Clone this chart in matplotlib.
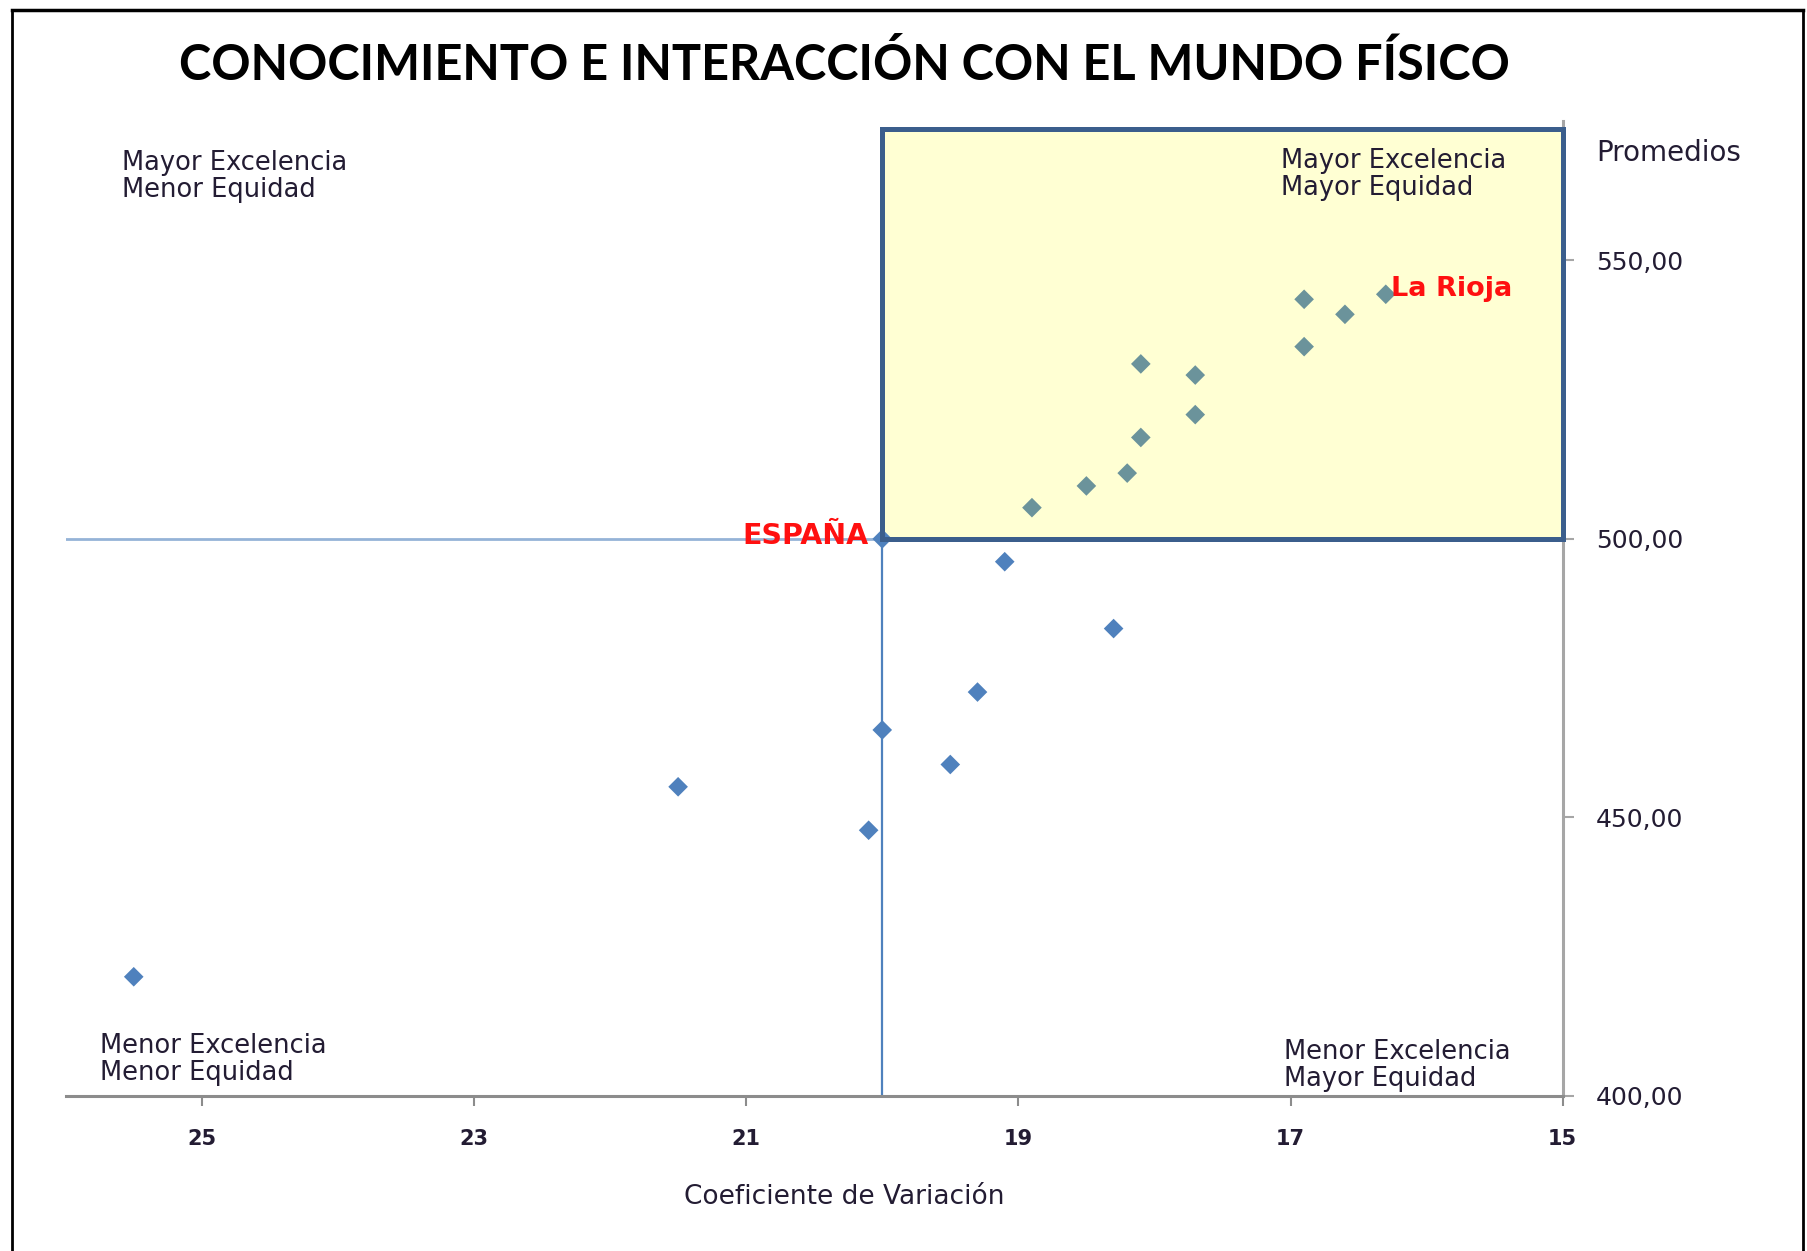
import matplotlib
matplotlib.use("Agg")
import matplotlib.pyplot as plt
from matplotlib.patches import Rectangle
from matplotlib.lines import Line2D

# ── Data ──────────────────────────────────────────────────────────────────────
cv = [25.5, 21.5, 20.1, 20.0, 19.5, 19.3, 18.3, 19.1,
      18.9, 18.5, 18.2, 18.1, 18.1, 17.7, 17.7, 16.9, 16.9, 16.6, 16.3]
promedio = [421.4, 455.5, 447.7, 465.7, 459.5, 472.5, 483.9, 495.9,
            505.6, 509.5, 511.8, 518.2, 531.4, 522.3, 529.4, 534.5, 543.0, 540.3, 543.9]

espana_cv, espana_prom = 20.0, 500.0
rioja_cv, rioja_prom = 16.3, 543.9

x_ticks = [25, 23, 21, 19, 17, 15]
y_ticks = [400, 450, 500, 550]
y_labels = ["400,00", "450,00", "500,00", "550,00"]

BLUE = "#4F81BD"
TEAL = "#6B939B"
TXT = "#231c33"

# ── Figure ────────────────────────────────────────────────────────────────────
W, H = 1807, 1251
fig = plt.figure(figsize=(W / 100, H / 100), dpi=100)
fig.patch.set_facecolor("white")
ax = fig.add_axes([65.7 / W, 1 - 1096 / H, (1562.7 - 65.7) / W, (1096 - 121) / H])
ax.set_xlim(26, 15)
ax.set_ylim(400, 575)

# quadrant box "Mayor Excelencia / Mayor Equidad"
box_top = 573.5
ax.add_patch(Rectangle((15, espana_prom), espana_cv - 15, box_top - espana_prom,
                       facecolor="#FFFFD3", edgecolor="none", zorder=1, clip_on=False))
ax.add_patch(Rectangle((15, espana_prom), espana_cv - 15, box_top - espana_prom,
                       fill=False, edgecolor="#3B5E8C", linewidth=3.6, zorder=5,
                       clip_on=False))

# reference lines through España
ax.plot([26, espana_cv], [espana_prom, espana_prom], color="#95B3D7", lw=2, zorder=2)
ax.plot([espana_cv, espana_cv], [400, 563], color=BLUE, lw=1.6, zorder=2)

# points: inside the box drawn in the tinted colour
inside = [(x < espana_cv and y > espana_prom) for x, y in zip(cv, promedio)]
cols = [TEAL if k else BLUE for k in inside]
ax.scatter(cv, promedio, marker="D", s=100, c=cols, edgecolors="none", zorder=3)
ax.scatter([espana_cv], [espana_prom], marker="D", s=100, c=BLUE, edgecolors="none", zorder=3)

ax.annotate("ESPAÑA", (espana_cv, espana_prom), xytext=(-10, 2), textcoords="offset points",
            ha="right", va="center", color="#FF1010", fontsize=20.5, fontweight="bold",
            family="DejaVu Sans", zorder=6)
ax.annotate("La Rioja", (rioja_cv, rioja_prom), xytext=(4, 4), textcoords="offset points",
            ha="left", va="center", color="#FF1010", fontsize=19.5, fontweight="bold",
            family="DejaVu Sans", zorder=6)

# axes styling
for s in ("left", "top"):
    ax.spines[s].set_visible(False)
ax.spines["right"].set_color("#A6A6A6")
ax.spines["right"].set_linewidth(2.2)
ax.spines["bottom"].set_color("#8C8C8C")
ax.spines["bottom"].set_linewidth(2.2)

ax.yaxis.tick_right()
ax.set_yticks(y_ticks)
ax.set_yticklabels(y_labels)
ax.set_xticks(x_ticks)
ax.set_xticklabels([str(t) for t in x_ticks])
ax.tick_params(axis="y", direction="out", length=8, width=1.5, color="#A6A6A6",
               pad=16, labelsize=18, labelcolor=TXT)
ax.tick_params(axis="x", direction="out", length=7.5, width=1.5, color="#8C8C8C",
               pad=16, labelsize=15, labelcolor=TXT)
for lab in ax.get_xticklabels():
    lab.set_fontweight("bold")

# texts
fig.text(844 / W, 1 - 65 / H, "CONOCIMIENTO E INTERACCIÓN CON EL MUNDO FÍSICO",
         ha="center", va="center", fontsize=35, fontweight="bold", family="Lato", color="black")
fig.text(1596 / W, 1 - 153 / H, "Promedios", ha="left", va="center", fontsize=20, color=TXT)
fig.text(844 / W, 1 - 1197 / H, "Coeficiente de Variación", ha="center", va="center",
         fontsize=19, color=TXT)

quad = [
    (122, 161, "Mayor Excelencia\nMenor Equidad"),
    (1281, 159, "Mayor Excelencia\nMayor Equidad"),
    (100, 1044, "Menor Excelencia\nMenor Equidad"),
    (1284, 1050, "Menor Excelencia\nMayor Equidad"),
]
for px, py, t in quad:
    fig.text(px / W, 1 - (py - 11) / H, t, ha="left", va="top", fontsize=18.5,
             color=TXT, linespacing=1.07)

# outer frame
fig.add_artist(Line2D([12 / W, 1803 / W], [1 - 10 / H, 1 - 10 / H], color="black", lw=2.5,
                      transform=fig.transFigure))
fig.add_artist(Line2D([12 / W, 12 / W], [0, 1 - 10 / H], color="black", lw=2,
                      transform=fig.transFigure))
fig.add_artist(Line2D([1803 / W, 1803 / W], [0, 1 - 10 / H], color="black", lw=2,
                      transform=fig.transFigure))

fig.savefig("out.png", dpi=100)
